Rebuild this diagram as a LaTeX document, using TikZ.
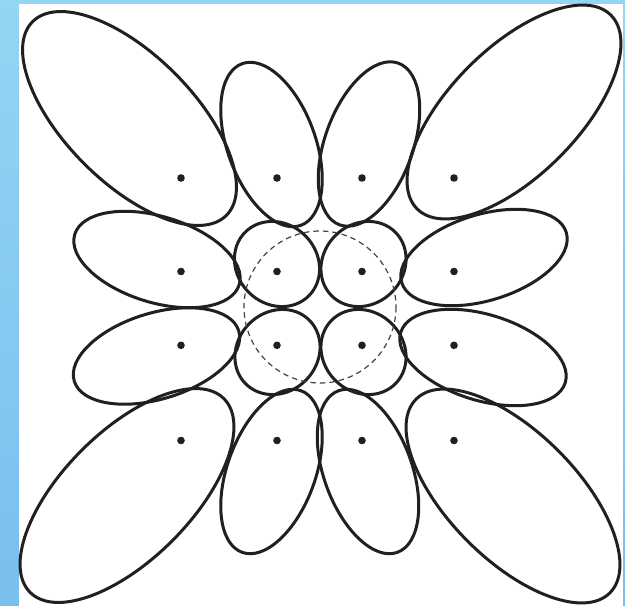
\documentclass[tikz,border=0pt]{standalone}
\usetikzlibrary{calc}
\definecolor{ink}{HTML}{231F20}
\definecolor{bgtop}{HTML}{92D6F2}
\definecolor{bgmid}{HTML}{A6E1F4}
\definecolor{bgbot}{HTML}{78BFEE}
\tikzset{
  lobe/.style={draw=ink, line width=3pt},
  pole/.style={fill=ink},
  zone/.style={draw=ink!85, line width=1.2pt, dash pattern=on 5.5pt off 4pt}
}
\newcommand\lobe[5]{\draw[lobe, rotate around={#5:(#1,#2)}] (#1,#2) ellipse [x radius=#3, y radius=#4];}
\begin{document}
\begin{tikzpicture}[x=1pt, y=-1pt]
\useasboundingbox (0,0) rectangle (625,606);
% background frame
\shade[top color=bgtop, middle color=bgmid, bottom color=bgbot] (0,0) rectangle (625,606);
\fill[white] (19,4) rectangle (623,606);
% corner lobes
\lobe{129.5}{118.5}{137}{64}{-45}
\lobe{514}{112}{137}{64}{45}
\lobe{127}{495.5}{137}{64}{45}
\lobe{513}{496}{137}{64}{-45}
% vertical lobes
\lobe{271.5}{144.5}{86}{44}{-70}
\lobe{369}{144}{86}{44}{70}
\lobe{271.5}{471.5}{86}{44}{70}
\lobe{368}{471.5}{86}{44}{-70}
% horizontal lobes
\lobe{157}{259.5}{86}{43}{-17}
\lobe{484}{257.5}{86}{43}{17}
\lobe{156.5}{356}{86}{43}{17}
\lobe{483}{357.5}{86}{43}{-17}
% central lobes
\lobe{277}{264}{45}{40}{-45}
\lobe{363.5}{264}{45}{40}{45}
\lobe{277.5}{352}{45}{40}{45}
\lobe{363.5}{352}{45}{40}{-45}
% dashed circle
\coordinate (ctr) at (320,307);
\draw[zone] (ctr) circle [radius=76];
% poles
\foreach \px in {181,277,362,454}{
  \foreach \py in {178,271.5,345.3,440.5}{
    \fill[pole] (\px,\py) circle [radius=3.8];
  }
}
\end{tikzpicture}
\end{document}
